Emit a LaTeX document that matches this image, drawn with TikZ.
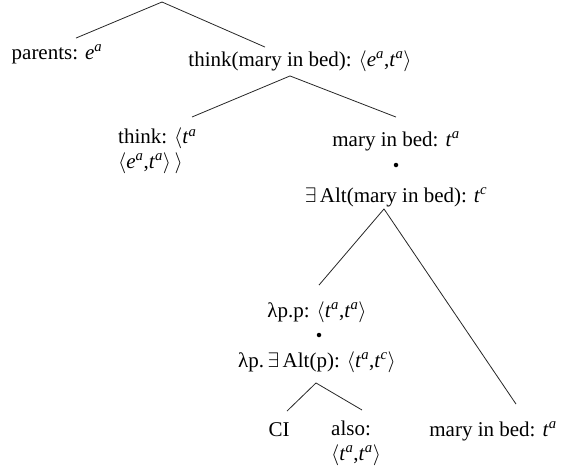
\documentclass[tikz,border=0pt]{standalone}
\usepackage{fix-cm}
\usepackage{fontspec}
\setmainfont{Liberation Serif}
\usepackage{tikz}
\usetikzlibrary{positioning}
\newcommand{\termfont}{\fontsize{21}{23}\selectfont}
\newcommand{\stackfont}{\fontsize{21}{24.5}\selectfont}
\newcommand{\ty}[2]{\textit{#1}\textsuperscript{\textit{#2}}}
\tikzstyle{term} = [inner sep=2pt, text height=15pt, text depth=4.5pt, font=\termfont]
\tikzstyle{termstack} = [inner sep=2pt, align=left, anchor=north west, font=\stackfont]
\tikzstyle{joindot} = [circle, fill=black, inner sep=0pt, minimum size=4.5pt]
\tikzstyle{branch} = [line width=0.8pt, black!85]

\begin{document}
\begin{tikzpicture}[x=1pt, y=-1pt, on grid]
		\useasboundingbox (0,0) rectangle (561,469);
		% upper part
		\node (parents)[term] at (57,54) {parents: \ty{e}{a}};
		\node (thinkmib)[term] at (300,61) {think(mary in bed): $\langle$\ty{e}{a},\ty{t}{a}$\rangle$};
		\node (think)[termstack] at (116,126) {think: $\langle$\ty{t}{a}\\$\langle$\ty{e}{a},\ty{t}{a}$\rangle\,\rangle$};
		\node (marytop)[term] at (396,141) {mary in bed: \ty{t}{a}};
		\node (dotA)[joindot, below=24pt of marytop] {};
		\node (existsalt)[term, below=56pt of marytop] {$\exists\,$Alt(mary in bed): \ty{t}{c}};
		% lower part
		\node (lampp)[term] at (317,312) {λp.p: $\langle$\ty{t}{a},\ty{t}{a}$\rangle$};
		\node (dotB)[joindot, below right=23pt and 2pt of lampp] {};
		\node (lamalt)[term, below=50pt of lampp] {λp.$\,\exists\,$Alt(p): $\langle$\ty{t}{a},\ty{t}{c}$\rangle$};
		\node (ci)[term] at (279,431) {CI};
		\node (also)[termstack] at (329,419) {also:\\$\langle$\ty{t}{a},\ty{t}{a}$\rangle$};
		\node (marybot)[term, right=214pt of ci] {mary in bed: \ty{t}{a}};
		% branches
		\coordinate (top) at (162,2);
		\coordinate (forkA) at ([xshift=-10pt,yshift=-3pt]thinkmib.south);
		\coordinate (forkB) at ([xshift=-12pt]existsalt.south);
		\coordinate (forkC) at ([xshift=-1pt,yshift=-9pt]lamalt.south);
		\draw [branch] (top) -- ([xshift=19pt,yshift=4pt]parents.north);
		\draw [branch] (top) -- ([xshift=-35pt,yshift=2pt]thinkmib.north);
		\draw [branch] (forkA) -- ([xshift=76pt,yshift=9pt]think.north west);
		\draw [branch] (forkA) -- ([yshift=12pt]marytop.north);
		\draw [branch] (forkB) -- ([xshift=2pt,yshift=15pt]lampp.north);
		\draw [branch] (forkB) -- ([xshift=23pt,yshift=15pt]marybot.north);
		\draw [branch] (forkC) -- ([xshift=8pt,yshift=8pt]ci.north);
		\draw [branch] (forkC) -- ([xshift=33pt,yshift=9pt]also.north west);
	\end{tikzpicture}
\end{document}
